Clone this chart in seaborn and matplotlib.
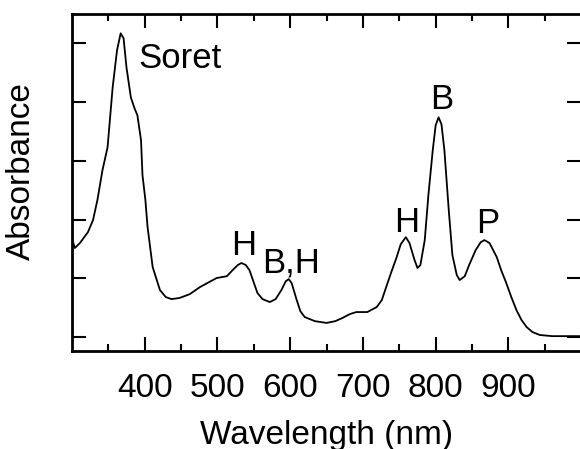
import pandas as pd
import seaborn as sns
import matplotlib.pyplot as plt
import matplotlib.ticker as plticker

# spectrum (nm, arbitrary absorbance)
wavelength = [300, 304, 311, 322, 329, 335, 342, 349, 356, 362, 367, 371, 375, 381,
              386, 390, 395, 397, 401, 404, 411, 421, 429, 437, 448, 462, 476, 499,
              513, 521, 528, 533, 539, 544, 555, 562, 572, 580, 588, 594, 598, 602,
              609, 614, 620, 634, 650, 662, 672, 682, 691, 706, 719, 726, 732, 739,
              746, 752, 759, 764, 771, 775, 779, 785, 790, 796, 800, 804, 808, 812,
              818, 823, 829, 833, 840, 846, 855, 862, 867, 874, 884, 890, 897, 904,
              911, 918, 925, 933, 943, 960, 978, 998]
absorbance = [0.337, 0.303, 0.320, 0.357, 0.398, 0.466, 0.568, 0.646, 0.850, 0.976,
              1.034, 1.017, 0.918, 0.816, 0.779, 0.755, 0.670, 0.551, 0.466, 0.374,
              0.238, 0.160, 0.136, 0.129, 0.133, 0.146, 0.170, 0.201, 0.207, 0.228,
              0.245, 0.252, 0.245, 0.228, 0.150, 0.129, 0.119, 0.129, 0.160, 0.190,
              0.197, 0.184, 0.126, 0.088, 0.068, 0.054, 0.048, 0.054, 0.065, 0.078,
              0.085, 0.085, 0.102, 0.126, 0.170, 0.221, 0.269, 0.316, 0.340, 0.320,
              0.262, 0.235, 0.245, 0.330, 0.483, 0.636, 0.721, 0.748, 0.724, 0.636,
              0.432, 0.279, 0.211, 0.194, 0.207, 0.245, 0.296, 0.323, 0.330, 0.320,
              0.272, 0.228, 0.184, 0.136, 0.092, 0.058, 0.034, 0.017, 0.007, 0.003,
              0.003, 0.003]

# band labels
band_names = ["Soret", "H", "B,H", "H", "B", "P"]
band_x = [448, 536, 601, 760, 808, 871]
band_y = [0.915, 0.279, 0.221, 0.357, 0.776, 0.354]

df = pd.DataFrame({"wavelength": wavelength, "absorbance": absorbance})

sns.set_theme(style="ticks")
plt.rcParams['font.family'] = ['Liberation Sans', 'DejaVu Sans']
plt.rcParams['text.color'] = 'black'
plt.rcParams['axes.labelcolor'] = 'black'

fig = plt.figure(figsize=(5.8, 4.49), dpi=100)
ax = fig.add_axes([0.124, 0.218, 0.878, 0.751])

sns.lineplot(data=df, x="wavelength", y="absorbance", sort=False, estimator=None,
             color="black", lw=1.3, ax=ax)

for name, bx, by in zip(band_names, band_x, band_y):
    ax.text(bx, by, name, fontsize=25, ha="center", va="baseline", color="black")

ax.set_xlim(300, 1000)
ax.set_ylim(-0.048, 1.10)
ax.set_xticks([400, 500, 600, 700, 800, 900])
ax.xaxis.set_minor_locator(plticker.FixedLocator([350, 450, 550, 650, 750, 850, 950]))
ax.set_yticks([0, 0.2, 0.4, 0.6, 0.8, 1.0])
ax.set_yticklabels([])

ax.tick_params(which="both", direction="in", top=True, right=True, width=1.5,
               colors="black", labelsize=24, pad=16)
ax.tick_params(which="major", length=10)
ax.tick_params(which="minor", length=5)
for s in ax.spines.values():
    s.set_linewidth(2)
    s.set_color("black")

ax.set_xlabel("Wavelength (nm)", fontsize=24, labelpad=11)
ax.set_ylabel("Absorbance", fontsize=24, labelpad=9)
ax.yaxis.label.set_y(0.534)

fig.savefig("out.png", dpi=100)
